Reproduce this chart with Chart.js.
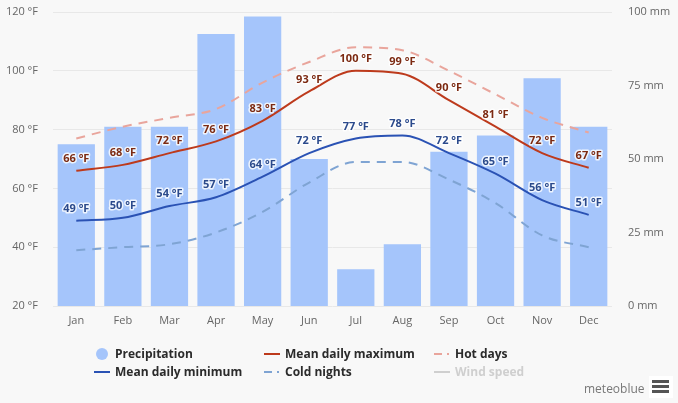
<!DOCTYPE html>
<html>
<head>
<meta charset="utf-8">
<script src="https://cdn.jsdelivr.net/npm/chart.js@4"></script>
<style>
    html, body { margin: 0; padding: 0; background: #f8f8f8; }
    #wrap { position: relative; width: 678px; height: 403px; overflow: hidden; }
    #chart { position: absolute; left: 0; top: 0; }
    .item { position: absolute; font: bold 12px "Open Sans", sans-serif; color: #2b2b2b; line-height: 16px; white-space: nowrap; }
    .item svg { position: absolute; top: 0; }
    #brand { position: absolute; left: 584px; top: 380px; font: 12px "Open Sans", sans-serif; color: #777; }
    #menu { position: absolute; left: 649px; top: 376px; width: 24px; height: 22px; background: #fff; }
    #menu i { position: absolute; left: 3px; width: 17px; height: 3px; background: #555; }
</style>
</head>
<body>
<div id="wrap">
    <canvas id="chart" width="678" height="403"></canvas>
    <div id="legend"></div>
    <div id="brand">meteoblue</div>
    <div id="menu"><i style="top:4px"></i><i style="top:9px"></i><i style="top:14px"></i></div>
</div>
<script>
// Data
const months = ['Jan', 'Feb', 'Mar', 'Apr', 'May', 'Jun', 'Jul', 'Aug', 'Sep', 'Oct', 'Nov', 'Dec'];
const precipitation = [55, 61, 61, 92.5, 98.5, 50, 12.5, 21, 52.5, 58, 77.5, 61];
const meanMax = [66, 68, 72, 76, 83, 93, 100, 99, 90, 81, 72, 67];
const meanMin = [49, 50, 54, 57, 64, 72, 77, 78, 72, 65, 56, 51];
const hotDays = [77, 81, 84, 87, 96, 103, 108, 107, 100, 92, 84, 79];
const coldNights = [39, 40, 41, 45, 52, 62, 69, 69, 63, 55, 44, 40];
const tempTicks = [20, 40, 60, 80, 100, 120];
const rainTicks = [0, 25, 50, 75, 100];

const COLORS = {
    bar: '#a5c5fb',
    max: '#bd3a1c',
    min: '#2a52b4',
    hot: '#e9a59c',
    cold: '#7fa4d3',
    wind: '#cfcfcf',
    maxText: '#7c2a12',
    minText: '#2b4a8c',
    grid: '#e8e8e8',
    tick: '#666'
};
const FONT = '"Open Sans", sans-serif';

// Halo labels above both mean lines
const valueLabels = {
    id: 'valueLabels',
    afterDatasetsDraw(chart) {
        const ctx = chart.ctx;
        ctx.save();
        ctx.font = 'bold 11px ' + FONT;
        ctx.textAlign = 'center';
        ctx.textBaseline = 'middle';
        ctx.lineJoin = 'round';
        chart.data.datasets.forEach((ds, i) => {
            if (!ds.labelColor) return;
            chart.getDatasetMeta(i).data.forEach((pt, j) => {
                const text = ds.data[j] + ' °F';
                ctx.lineWidth = 3;
                ctx.strokeStyle = 'rgba(255,255,255,0.8)';
                ctx.strokeText(text, pt.x, pt.y - 12);
                ctx.fillStyle = ds.labelColor;
                ctx.fillText(text, pt.x, pt.y - 12);
            });
        });
        ctx.restore();
    }
};

function lineSet(label, data, color, extra) {
    return Object.assign({
        type: 'line', label, data, yAxisID: 'y', borderColor: color, borderWidth: 2,
        pointRadius: 0, cubicInterpolationMode: 'monotone', fill: false
    }, extra);
}

new Chart(document.getElementById('chart'), {
    data: {
        labels: months,
        datasets: [
            lineSet('Mean daily maximum', meanMax, COLORS.max, { labelColor: COLORS.maxText, order: 2 }),
            lineSet('Mean daily minimum', meanMin, COLORS.min, { labelColor: COLORS.minText, order: 2 }),
            lineSet('Hot days', hotDays, COLORS.hot, { borderDash: [9, 7], order: 3 }),
            lineSet('Cold nights', coldNights, COLORS.cold, { borderDash: [9, 7], order: 3 }),
            { type: 'bar', label: 'Precipitation', data: precipitation, yAxisID: 'y2', backgroundColor: COLORS.bar,
              barPercentage: 0.8, categoryPercentage: 1, order: 4 }
        ]
    },
    options: {
        responsive: false,
        animation: false,
        devicePixelRatio: 1,
        layout: { padding: { top: 12, left: 0, right: 0, bottom: 0 } },
        plugins: { legend: { display: false }, tooltip: { enabled: false } },
        scales: {
            x: {
                offset: true,
                grid: { display: false, drawTicks: false },
                border: { display: false },
                ticks: { color: COLORS.tick, font: { family: FONT, size: 11 }, padding: 8, maxRotation: 0 },
                afterFit(scale) { scale.height = 97; }
            },
            y: {
                min: 20, max: 120,
                afterBuildTicks(scale) { scale.ticks = tempTicks.map(value => ({ value })); },
                // tick length instead of label padding, padding would push the plot top down
                grid: { color: COLORS.grid, tickLength: 15, tickColor: 'rgba(0,0,0,0)' },
                border: { display: false },
                ticks: { color: COLORS.tick, font: { family: FONT, size: 11 }, padding: 0, callback: v => v + ' °F' },
                afterFit(scale) { scale.width = 53; }
            },
            y2: {
                position: 'right',
                min: 0, max: 100,
                afterBuildTicks(scale) { scale.ticks = rainTicks.map(value => ({ value })); },
                grid: { display: false, tickLength: 16 },
                border: { display: false },
                ticks: { color: COLORS.tick, font: { family: FONT, size: 11 }, padding: 0, callback: v => v + ' mm' },
                afterFit(scale) { scale.width = 66; }
            }
        }
    },
    plugins: [valueLabels]
});

// Legend
const legendItems = [
    { name: 'Precipitation', x: 115, y: 346, kind: 'dot', color: COLORS.bar },
    { name: 'Mean daily maximum', x: 285, y: 346, kind: 'line', color: COLORS.max },
    { name: 'Hot days', x: 455, y: 346, kind: 'dash', color: COLORS.hot },
    { name: 'Mean daily minimum', x: 115, y: 364, kind: 'line', color: COLORS.min },
    { name: 'Cold nights', x: 285, y: 364, kind: 'dash', color: COLORS.cold },
    { name: 'Wind speed', x: 455, y: 364, kind: 'line', color: COLORS.wind, text: '#cfcfcf' }
];
const marks = {
    dot: c => `<circle cx="8" cy="8" r="6" fill="${c}"/>`,
    line: c => `<line x1="0" x2="16" y1="8" y2="8" stroke="${c}" stroke-width="2"/>`,
    dash: c => `<line x1="0" x2="16" y1="8" y2="8" stroke="${c}" stroke-width="2" stroke-dasharray="8 5 2 1"/>`
};
document.getElementById('legend').innerHTML = legendItems.map(it => `
    <div class="item" style="left:${it.x}px;top:${it.y}px;color:${it.text || '#2b2b2b'}">
        <svg width="16" height="16" style="left:-21px">${marks[it.kind](it.color)}</svg>${it.name}
    </div>`).join('');
</script>
</body>
</html>
